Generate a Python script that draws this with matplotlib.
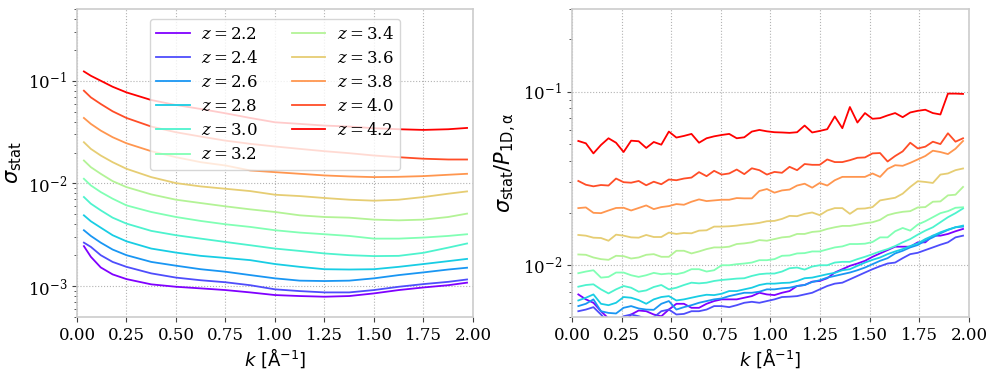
import numpy as np
import matplotlib
matplotlib.use("Agg")
import matplotlib.pyplot as plt
from matplotlib.font_manager import FontProperties

plt.rcParams["font.family"] = "DejaVu Serif"
plt.rcParams["mathtext.fontset"] = "dejavuserif"

# redshift bins
z_bins = [2.2, 2.4, 2.6, 2.8, 3.0, 3.2, 3.4, 3.6, 3.8, 4.0, 4.2]

# left panel: sigma_stat vs k
k_left = [0.035, 0.07, 0.12, 0.18, 0.25, 0.375, 0.5, 0.625, 0.75, 0.875, 1.0,
          1.125, 1.25, 1.375, 1.5, 1.625, 1.75, 1.875, 1.97]
sig_22 = [0.00245, 0.00193, 0.00152, 0.0013, 0.00117, 0.00104, 0.000985, 0.00095, 0.000915, 0.000868,
          0.000818, 0.0008, 0.000788, 0.0008, 0.000849, 0.000915, 0.00097, 0.00102, 0.00108]
sig_24 = [0.00265, 0.00241, 0.002, 0.00172, 0.00154, 0.00133, 0.00121, 0.00114, 0.00109, 0.00102,
          0.00093, 0.000894, 0.000868, 0.000868, 0.000915, 0.000985, 0.001046, 0.0011, 0.00116]
sig_26 = [0.0035, 0.00308, 0.00265, 0.00227, 0.002, 0.00172, 0.00158, 0.00146, 0.00138, 0.00128,
          0.00119, 0.00113, 0.00112, 0.00113, 0.00119, 0.00128, 0.00136, 0.00145, 0.00151]
sig_28 = [0.00489, 0.00428, 0.00371, 0.00313, 0.00273, 0.00232, 0.00212, 0.00197, 0.00188, 0.00179,
          0.00164, 0.00154, 0.00146, 0.00145, 0.00146, 0.00154, 0.00164, 0.00175, 0.00184]
sig_30 = [0.00737, 0.00635, 0.00547, 0.00464, 0.00406, 0.00345, 0.00313, 0.0029, 0.00269, 0.0025,
          0.00232, 0.0022, 0.00208, 0.002, 0.00196, 0.00197, 0.00211, 0.00237, 0.0026]
sig_32 = [0.0111, 0.00956, 0.00824, 0.0071, 0.00611, 0.00527, 0.00471, 0.00431, 0.004, 0.00377,
          0.0035, 0.00332, 0.0032, 0.00308, 0.0029, 0.0029, 0.00297, 0.00308, 0.0032]
sig_34 = [0.01672, 0.0144, 0.01241, 0.01053, 0.00921, 0.00782, 0.00694, 0.00644, 0.00598, 0.00559,
          0.00527, 0.00489, 0.00471, 0.00464, 0.00444, 0.00437, 0.00444, 0.00471, 0.00508]
sig_36 = [0.0252, 0.0217, 0.0187, 0.0161, 0.01388, 0.01152, 0.01007, 0.00935, 0.00887, 0.00842,
          0.00776, 0.00753, 0.00721, 0.00694, 0.00679, 0.00694, 0.00737, 0.00794, 0.00836]
sig_38 = [0.0434, 0.038, 0.0327, 0.0282, 0.0246, 0.0206, 0.018, 0.0161, 0.01495, 0.01337,
          0.01288, 0.01241, 0.01196, 0.01169, 0.01152, 0.0116, 0.01178, 0.01214, 0.01241]
sig_40 = [0.08, 0.0689, 0.0594, 0.0504, 0.0434, 0.0358, 0.0315, 0.0286, 0.0261, 0.0243,
          0.0229, 0.0217, 0.0206, 0.0197, 0.0187, 0.018, 0.0174, 0.0171, 0.0171]
sig_42 = [0.1232, 0.1118, 0.1, 0.0874, 0.077, 0.0649, 0.058, 0.0531, 0.0482, 0.0434,
          0.0394, 0.038, 0.0366, 0.0358, 0.0345, 0.0337, 0.0332, 0.0337, 0.0347]

# right panel: sigma_stat / P1D
k_right = [0.032, 0.070, 0.108, 0.146, 0.184, 0.222, 0.260, 0.298, 0.336, 0.374,
           0.412, 0.450, 0.488, 0.526, 0.564, 0.602, 0.640, 0.678, 0.716, 0.754,
           0.792, 0.830, 0.868, 0.906, 0.944, 0.982, 1.020, 1.058, 1.096, 1.134,
           1.172, 1.210, 1.248, 1.286, 1.324, 1.362, 1.400, 1.438, 1.476, 1.514,
           1.552, 1.590, 1.628, 1.666, 1.704, 1.742, 1.780, 1.818, 1.856, 1.894,
           1.932, 1.970]
rel_22 = [0.00675, 0.00632, 0.00604, 0.0054, 0.0049, 0.00462, 0.00452, 0.00517, 0.00545, 0.0054,
          0.00517, 0.00505, 0.00552, 0.00596, 0.00596, 0.00565, 0.00565, 0.00596, 0.00618, 0.00632,
          0.00632, 0.00632, 0.00646, 0.0066, 0.0069, 0.00675, 0.00669, 0.0069, 0.00706, 0.00755,
          0.00765, 0.008, 0.00807, 0.00837, 0.00903, 0.00944, 0.00987, 0.01018, 0.01055, 0.01113,
          0.01164, 0.01217, 0.01273, 0.01273, 0.01273, 0.01349, 0.01349, 0.01474, 0.01474, 0.01508,
          0.01563, 0.01612]
rel_24 = [0.0054, 0.00552, 0.0057, 0.00517, 0.00462, 0.00477, 0.00505, 0.00517, 0.00505, 0.0049,
          0.00498, 0.0054, 0.00552, 0.00517, 0.00521, 0.0054, 0.0054, 0.00552, 0.00578, 0.00578,
          0.0057, 0.00585, 0.00604, 0.00612, 0.00604, 0.00618, 0.00632, 0.00652, 0.00655, 0.0066,
          0.00675, 0.0069, 0.00722, 0.00755, 0.00779, 0.00789, 0.00825, 0.00863, 0.00903, 0.00944,
          0.00982, 0.01018, 0.01031, 0.01093, 0.01153, 0.01174, 0.01217, 0.01261, 0.01307, 0.01349,
          0.01441, 0.01474]
rel_26 = [0.00578, 0.00596, 0.00632, 0.0054, 0.00528, 0.00524, 0.00565, 0.00578, 0.0056, 0.00552,
          0.0055, 0.00596, 0.00618, 0.00552, 0.0057, 0.00585, 0.00604, 0.00618, 0.00632, 0.0064,
          0.0066, 0.00675, 0.0069, 0.0069, 0.007, 0.00722, 0.00722, 0.00732, 0.00738, 0.00755,
          0.00765, 0.00796, 0.00815, 0.00844, 0.00863, 0.00883, 0.00903, 0.00931, 0.00965, 0.01009,
          0.01055, 0.01093, 0.01164, 0.01206, 0.01261, 0.01302, 0.01378, 0.01441, 0.01521, 0.01591,
          0.01648, 0.01663]
rel_28 = [0.00623, 0.00646, 0.00675, 0.00596, 0.00585, 0.00604, 0.00652, 0.00646, 0.00626, 0.00596,
          0.00632, 0.00652, 0.0066, 0.00623, 0.00632, 0.00646, 0.0066, 0.00672, 0.00669, 0.00681,
          0.00706, 0.00706, 0.00722, 0.00738, 0.00765, 0.00779, 0.00779, 0.00786, 0.00789, 0.00807,
          0.00837, 0.00844, 0.00863, 0.00883, 0.00899, 0.00931, 0.00944, 0.00987, 0.01031, 0.01069,
          0.01103, 0.01153, 0.01195, 0.01233, 0.01284, 0.0133, 0.01409, 0.01474, 0.01542, 0.01598,
          0.01648, 0.01685]
rel_30 = [0.00748, 0.00765, 0.00772, 0.00722, 0.00684, 0.00722, 0.00755, 0.00738, 0.007, 0.00712,
          0.00745, 0.00765, 0.00722, 0.00738, 0.00765, 0.00789, 0.00782, 0.00789, 0.00807, 0.00818,
          0.00825, 0.00833, 0.00837, 0.00863, 0.00883, 0.00891, 0.00891, 0.00915, 0.00956, 0.00965,
          0.00939, 0.00978, 0.00995, 0.00995, 0.01031, 0.01041, 0.01041, 0.01079, 0.01113, 0.01153,
          0.01195, 0.01233, 0.01284, 0.01349, 0.01409, 0.01494, 0.01576, 0.01648, 0.01762, 0.01884,
          0.01988, 0.02116]
rel_32 = [0.00895, 0.00915, 0.00931, 0.00844, 0.00852, 0.00903, 0.00903, 0.00871, 0.00852, 0.00871,
          0.00899, 0.00883, 0.00891, 0.00883, 0.00903, 0.00944, 0.00944, 0.00915, 0.00931, 0.00995,
          0.00995, 0.01009, 0.01018, 0.01031, 0.01064, 0.01064, 0.01079, 0.01128, 0.01133, 0.01164,
          0.01169, 0.01195, 0.01195, 0.01228, 0.01261, 0.01278, 0.01319, 0.01319, 0.01325, 0.01355,
          0.01441, 0.01441, 0.01563, 0.01633, 0.01576, 0.01708, 0.01786, 0.01884, 0.01988, 0.02042,
          0.02136, 0.0215]
rel_34 = [0.01148, 0.01143, 0.01103, 0.01079, 0.01069, 0.01128, 0.01123, 0.01088, 0.01103, 0.01143,
          0.01153, 0.01113, 0.01113, 0.01206, 0.01206, 0.01164, 0.01195, 0.01233, 0.01261, 0.01261,
          0.01273, 0.01319, 0.0133, 0.01349, 0.0139, 0.01378, 0.01409, 0.01441, 0.01454, 0.01508,
          0.01508, 0.01549, 0.01563, 0.01612, 0.01648, 0.01678, 0.01678, 0.01708, 0.01739, 0.01762,
          0.01818, 0.01936, 0.01988, 0.02024, 0.02042, 0.02145, 0.02155, 0.02314, 0.02324, 0.02519,
          0.02541, 0.02817]
rel_36 = [0.01488, 0.01474, 0.01435, 0.01429, 0.01378, 0.01494, 0.01474, 0.01441, 0.01435, 0.01488,
          0.01448, 0.01448, 0.01535, 0.01508, 0.01528, 0.01521, 0.01576, 0.01583, 0.01663, 0.01663,
          0.0167, 0.01685, 0.01708, 0.01723, 0.01747, 0.01786, 0.01794, 0.01842, 0.01918, 0.0191,
          0.0197, 0.02006, 0.01936, 0.0206, 0.02126, 0.02126, 0.0197, 0.02107, 0.02116, 0.02155,
          0.02355, 0.02398, 0.0244, 0.02576, 0.02817, 0.0304, 0.0301, 0.0297, 0.0332, 0.0337,
          0.0352, 0.036]
rel_38 = [0.02126, 0.02145, 0.01997, 0.01988, 0.0206, 0.0213, 0.02136, 0.0206, 0.0213, 0.02203,
          0.02098, 0.02155, 0.02184, 0.02243, 0.02223, 0.02314, 0.02387, 0.02334, 0.02355, 0.02376,
          0.02376, 0.0243, 0.0242, 0.0242, 0.0267, 0.0274, 0.0261, 0.0269, 0.0272, 0.0287,
          0.0294, 0.0279, 0.0297, 0.0287, 0.0308, 0.0322, 0.0322, 0.0322, 0.0322, 0.0337,
          0.0322, 0.0358, 0.0376, 0.0373, 0.0388, 0.0406, 0.0425, 0.0456, 0.0448, 0.0436,
          0.0468, 0.0519]
rel_40 = [0.0305, 0.029, 0.0284, 0.0289, 0.0287, 0.0315, 0.03, 0.0298, 0.0305, 0.0288,
          0.0302, 0.0292, 0.0311, 0.0308, 0.0315, 0.0319, 0.0343, 0.0325, 0.0349, 0.0332,
          0.0337, 0.0355, 0.0334, 0.0361, 0.0352, 0.0332, 0.0344, 0.034, 0.0368, 0.0352,
          0.0382, 0.0378, 0.0378, 0.0406, 0.0392, 0.0392, 0.0402, 0.0415, 0.0417, 0.044,
          0.0442, 0.0395, 0.0425, 0.0452, 0.0507, 0.047, 0.0481, 0.0514, 0.0498, 0.0575,
          0.0514, 0.0538]
rel_42 = [0.0519, 0.0503, 0.044, 0.0492, 0.0538, 0.0507, 0.0448, 0.0521, 0.0517, 0.0473,
          0.0512, 0.0494, 0.0588, 0.0543, 0.0555, 0.057, 0.0507, 0.0538, 0.0552, 0.0562,
          0.057, 0.0538, 0.0545, 0.0588, 0.0601, 0.059, 0.0583, 0.0581, 0.0578, 0.0583,
          0.0637, 0.0581, 0.0593, 0.0607, 0.0719, 0.0615, 0.0815, 0.0663, 0.0752, 0.0697,
          0.0703, 0.0729, 0.0752, 0.0712, 0.0758, 0.0775, 0.0786, 0.0752, 0.0738, 0.0974,
          0.0974, 0.097]

sig_all = [sig_22, sig_24, sig_26, sig_28, sig_30, sig_32, sig_34, sig_36, sig_38, sig_40, sig_42]
rel_all = [rel_22, rel_24, rel_26, rel_28, rel_30, rel_32, rel_34, rel_36, rel_38, rel_40, rel_42]

colors = plt.cm.rainbow(np.linspace(0, 1, len(z_bins)))

fig = plt.figure(figsize=(9.97, 3.74), dpi=100)
ax1 = fig.add_axes([0.0772, 0.1524, 0.3972, 0.8236])
ax2 = fig.add_axes([0.5737, 0.1524, 0.3982, 0.8236])

for z, s, r, c in zip(z_bins, sig_all, rel_all, colors):
    ax1.plot(k_left, s, color=c, lw=1.3, label=r"$z = %.1f$" % z)
    ax2.plot(k_right, r, color=c, lw=1.3)

lab_kw = dict(fontfamily="DejaVu Sans", math_fontfamily="dejavusans")
for ax in (ax1, ax2):
    ax.set_yscale("log")
    ax.set_xlim(0, 2)
    ax.set_xticks([0, 0.25, 0.5, 0.75, 1.0, 1.25, 1.5, 1.75, 2.0])
    ax.grid(True, which="major", ls=":", lw=0.8, color="0.7")
    for sp in ax.spines.values():
        sp.set_color("#cccccc")
        sp.set_linewidth(1.2)
    ax.tick_params(which="both", labelsize=12, color="0.25")
    ax.set_xlabel(r"$k$ [Å$^{-1}$]", fontsize=13, labelpad=2, **lab_kw)

ax1.set_ylim(5e-4, 0.5)
ax2.set_ylim(5e-3, 0.3)
ax1.set_ylabel(r"$\sigma_{\rm stat}$", fontsize=15, labelpad=3, **lab_kw)
ax2.set_ylabel(r"$\sigma_{\rm stat}/P_{\rm 1D,\alpha}$", fontsize=15, labelpad=3, **lab_kw)

leg_font = FontProperties(family="DejaVu Serif", math_fontfamily="dejavuserif", size=12)
ax1.legend(loc="upper center", ncol=2, prop=leg_font, handlelength=2.0, handletextpad=0.7,
           columnspacing=2.0, labelspacing=0.43, borderaxespad=0.6)

fig.savefig("out.png", dpi=100)
